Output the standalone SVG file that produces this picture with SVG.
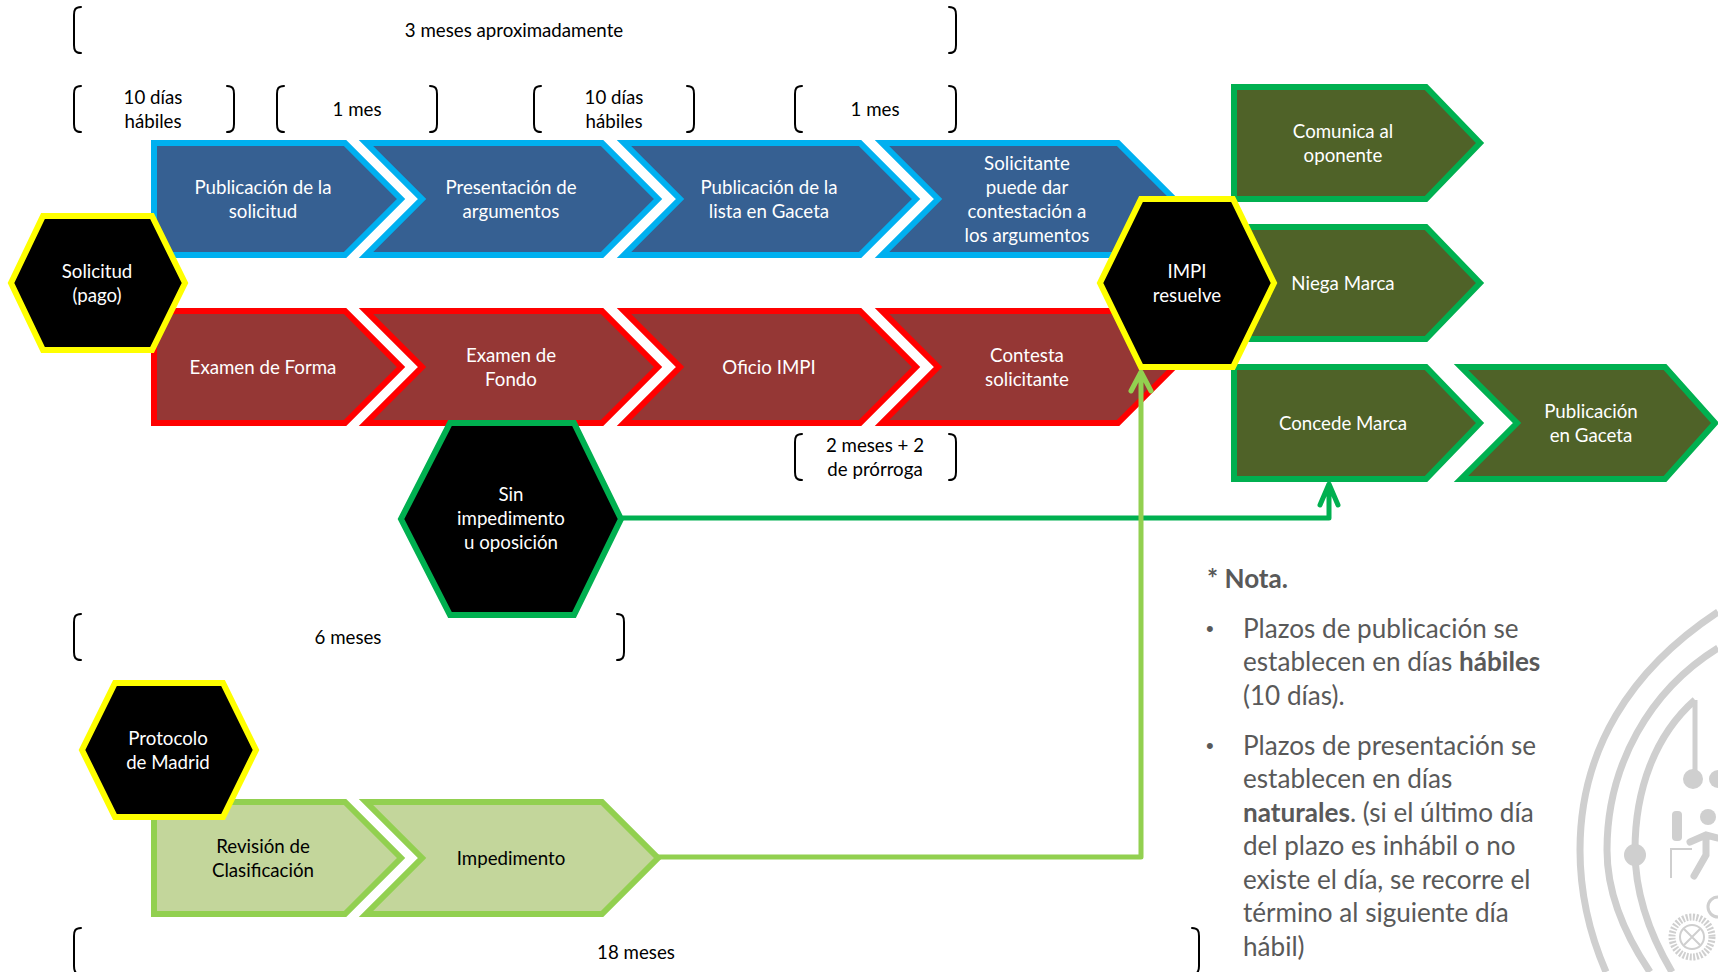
<svg xmlns="http://www.w3.org/2000/svg" width="1718" height="972" viewBox="0 0 1718 972">
<style>
text{font-family:"Lato","Liberation Sans",sans-serif;font-size:18.7px;text-anchor:middle}
.w{fill:#fff}.k{fill:#000}
.ch{stroke-width:6;stroke-linejoin:miter}
.b{fill:#366092;stroke:#00b0f0}.r{fill:#953735;stroke:#f00}.o{fill:#4f6228;stroke:#00b050}.l{fill:#c3d69b;stroke:#92d050}
.hx{fill:#000;stroke-width:6}.y{stroke:#ff0}.g{stroke:#00b050}
.br{fill:none;stroke:#000;stroke-width:2;stroke-linecap:round}
.n{fill:#595959;font-size:26.1px;text-anchor:start}
.logo{fill:none;stroke:#cfcfcf;stroke-width:7}.logof{fill:#cfcfcf}
</style>
<defs>
<path id="lb" d="M81,0C75,0 74,3 74,8V38C74,43 75,46 81,46" class="br"/>
<path id="rb" d="M0,0C6,0 7,3 7,8V38C7,43 6,46 0,46" class="br"/>
<path id="first" d="M154,3H345L401,59L345,115H154Z"/>
<path id="next" d="M366,3H602L658,59L602,115H366L422,59Z"/>
</defs>
<g id="watermark">
<path class="logo" d="M1718,612C1630,670 1580,750 1580,850C1580,895 1590,935 1606,972"/>
<path class="logo" d="M1718,648C1650,690 1607,765 1607,850C1607,895 1625,935 1650,972"/>
<path class="logo" d="M1695,700C1655,735 1635,790 1635,850C1635,895 1650,935 1672,972"/>
<path class="logo" style="stroke-width:5" d="M1695,700V778"/>
<circle class="logof" cx="1693" cy="779" r="10"/><circle class="logof" cx="1718" cy="779" r="9"/><circle class="logof" cx="1635" cy="855" r="11"/>
<circle class="logof" cx="1708" cy="817" r="8"/>
<rect class="logof" x="1672" y="811" width="10" height="30" rx="4"/>
<path class="logo" style="stroke-width:2" d="M1671,878V849H1692"/>
<path class="logo" style="stroke-width:7;stroke-linecap:round" d="M1690,842L1706,835L1718,838M1706,835L1706,855L1694,876"/>
<circle class="logo" style="stroke-width:7;stroke-dasharray:2 1.5" cx="1692" cy="937" r="20"/>
<circle class="logo" style="stroke-width:2" cx="1692" cy="937" r="12"/>
<path class="logo" style="stroke-width:2" d="M1684,929L1700,945M1700,929L1684,945"/>
<circle class="logo" style="stroke-width:3" cx="1718" cy="907" r="10"/>
</g>
<g id="brackets">
<use href="#lb" y="7"/><use href="#rb" x="949" y="7"/>
<use href="#lb" y="86"/><use href="#rb" x="227" y="86"/>
<use href="#lb" x="203" y="86"/><use href="#rb" x="430" y="86"/>
<use href="#lb" x="460" y="86"/><use href="#rb" x="687" y="86"/>
<use href="#lb" x="721" y="86"/><use href="#rb" x="949" y="86"/>
<use href="#lb" x="721" y="434"/><use href="#rb" x="949" y="434"/>
<use href="#lb" y="614"/><use href="#rb" x="617" y="614"/>
<use href="#lb" y="928"/><use href="#rb" x="1192" y="928"/>
</g>
<g id="labels">
<text class="k" x="514" y="37">3 meses aproximadamente</text>
<text class="k" x="153" y="104">10 días</text><text class="k" x="153" y="128">hábiles</text>
<text class="k" x="357" y="116">1 mes</text>
<text class="k" x="614" y="104">10 días</text><text class="k" x="614" y="128">hábiles</text>
<text class="k" x="875" y="116">1 mes</text>
<text class="k" x="875" y="452">2 meses + 2</text><text class="k" x="875" y="476">de prórroga</text>
<text class="k" x="348" y="644">6 meses</text>
<text class="k" x="636" y="959">18 meses</text>
</g>
<g id="connectors" fill="none" stroke-width="5" stroke-linejoin="round" stroke-linecap="round">
<path stroke="#00b050" d="M623,518H1329V486M1320,505L1329,484L1338,505"/>
</g>
<g id="n1"><use href="#first" class="ch b" y="140"/><text class="w" x="263" y="194">Publicación de la</text><text class="w" x="263" y="218">solicitud</text></g>
<g id="n2"><use href="#next" class="ch b" y="140"/><text class="w" x="511" y="194">Presentación de</text><text class="w" x="511" y="218">argumentos</text></g>
<g id="n3"><use href="#next" class="ch b" x="258" y="140"/><text class="w" x="769" y="194">Publicación de la</text><text class="w" x="769" y="218">lista en Gaceta</text></g>
<g id="n4"><use href="#next" class="ch b" x="516" y="140"/><text class="w" x="1027" y="170">Solicitante</text><text class="w" x="1027" y="194">puede dar</text><text class="w" x="1027" y="218">contestación a</text><text class="w" x="1027" y="242">los argumentos</text></g>
<g id="n5"><use href="#first" class="ch r" y="308"/><text class="w" x="263" y="374">Examen de Forma</text></g>
<g id="n6"><use href="#next" class="ch r" y="308"/><text class="w" x="511" y="362">Examen de</text><text class="w" x="511" y="386">Fondo</text></g>
<g id="n7"><use href="#next" class="ch r" x="258" y="308"/><text class="w" x="769" y="374">Oficio IMPI</text></g>
<g id="n8"><use href="#next" class="ch r" x="516" y="308"/><text class="w" x="1027" y="362">Contesta</text><text class="w" x="1027" y="386">solicitante</text></g>
<g id="n9"><path class="ch o" d="M1234,87H1426L1480,143L1426,199H1234Z"/><text class="w" x="1343" y="138">Comunica al</text><text class="w" x="1343" y="162">oponente</text></g>
<g id="n10"><path class="ch o" d="M1234,227H1426L1480,283L1426,339H1234Z"/><text class="w" x="1343" y="290">Niega Marca</text></g>
<g id="n11"><path class="ch o" d="M1234,367H1426L1480,423L1426,479H1234Z"/><text class="w" x="1343" y="430">Concede Marca</text></g>
<g id="n12"><path class="ch o" d="M1461,367H1665L1715,423L1665,479H1461L1517,423Z"/><text class="w" x="1591" y="418">Publicación</text><text class="w" x="1591" y="442">en Gaceta</text></g>
<g id="n13"><use href="#first" class="ch l" y="799"/><text class="k" x="263" y="853">Revisión de</text><text class="k" x="263" y="877">Clasificación</text></g>
<g id="n14"><use href="#next" class="ch l" y="799"/><text class="k" x="511" y="865">Impedimento</text></g>
<g id="connectors2" fill="none" stroke="#92d050" stroke-width="5" stroke-linejoin="round" stroke-linecap="round">
<path d="M658,857H1141V374M1131,391L1141,372L1151,391"/>
</g>
<g id="h1"><path class="hx y" d="M43,216H152L185,283L152,350H43L11,283Z"/><text class="w" x="97" y="278">Solicitud</text><text class="w" x="97" y="302">(pago)</text></g>
<g id="h2"><path class="hx y" d="M1141,199H1233L1274,283L1233,367H1141L1100,283Z"/><text class="w" x="1187" y="278">IMPI</text><text class="w" x="1187" y="302">resuelve</text></g>
<g id="h3"><path class="hx g" d="M450,423H574L621,519L574,615H450L401,519Z"/><text class="w" x="511" y="501">Sin</text><text class="w" x="511" y="525">impedimento</text><text class="w" x="511" y="549">u oposición</text></g>
<g id="h4"><path class="hx y" d="M115,683H223L256,750L223,817H115L82,750Z"/><text class="w" x="168" y="745">Protocolo</text><text class="w" x="168" y="769">de Madrid</text></g>
<g id="note">
<text class="n" x="1207" y="588"><tspan font-weight="700">* Nota.</tspan></text>
<text class="n" style="font-family:'Liberation Sans',sans-serif;font-size:22px" x="1206" y="636">•</text>
<text class="n" x="1243" y="638">Plazos de publicación se</text>
<text class="n" x="1243" y="671">establecen en días <tspan font-weight="700">hábiles</tspan></text>
<text class="n" x="1243" y="705">(10 días).</text>
<text class="n" style="font-family:'Liberation Sans',sans-serif;font-size:22px" x="1206" y="753">•</text>
<text class="n" x="1243" y="755">Plazos de presentación se</text>
<text class="n" x="1243" y="788">establecen en días</text>
<text class="n" x="1243" y="822"><tspan font-weight="700">naturales</tspan>. (si el último día</text>
<text class="n" x="1243" y="855">del plazo es inhábil o no</text>
<text class="n" x="1243" y="889">existe el día, se recorre el</text>
<text class="n" x="1243" y="922">término al siguiente día</text>
<text class="n" x="1243" y="956">hábil)</text>
</g>
</svg>
